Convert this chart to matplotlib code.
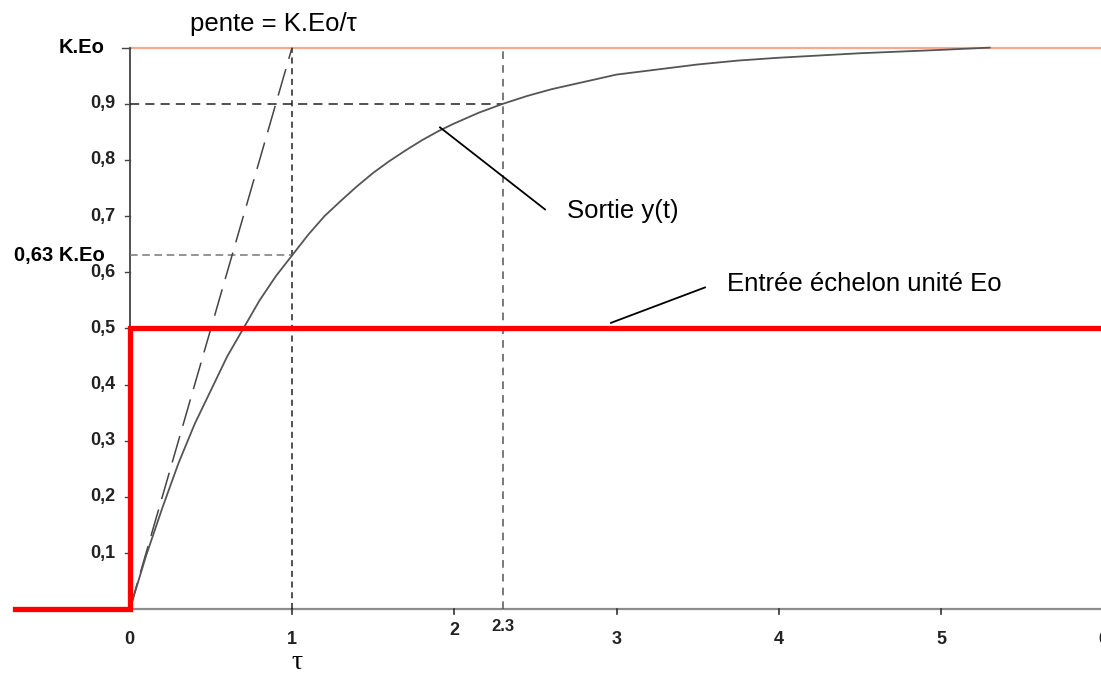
import matplotlib
matplotlib.use("Agg")
import matplotlib.pyplot as plt

plt.rcParams['font.family'] = ['Liberation Sans', 'DejaVu Sans']

# ---- data ----
t_out = [0, 0.1, 0.2, 0.3, 0.4, 0.5, 0.6, 0.7, 0.8, 0.9, 1.0, 1.1, 1.2, 1.3, 1.4, 1.5, 1.6, 1.7, 1.8, 1.9,
         2.0, 2.15, 2.3, 2.45, 2.6, 2.8, 3.0, 3.25, 3.5, 3.75, 4.0, 4.5, 5.0, 5.3]
y_out = [0, 0.095, 0.18, 0.26, 0.33, 0.39, 0.45, 0.50, 0.55, 0.593, 0.63, 0.667, 0.70, 0.727, 0.753, 0.777,
         0.798, 0.817, 0.835, 0.851, 0.865, 0.884, 0.90, 0.914, 0.926, 0.939, 0.952, 0.961, 0.970, 0.977,
         0.982, 0.990, 0.996, 1.0]
t_step = [-0.707, 0, 0, 6.2]
y_step = [0, 0, 0.5, 0.5]
tangent_t = [0, 1]
tangent_y = [0, 1]
y_ticks = [0.1, 0.2, 0.3, 0.4, 0.5, 0.6, 0.7, 0.8, 0.9]
y_tick_labels = ['0,1', '0,2', '0,3', '0,4', '0,5', '0,6', '0,7', '0,8', '0,9']
x_ticks = [0, 1, 2, 3, 4, 5, 6]
x_tick_labels = ['0', '1', '2', '3', '4', '5', '6']
tau = 1.0
t90 = 2.3
y63 = 0.63
y90 = 0.9
KEo = 1.0

fig = plt.figure(figsize=(11.01, 6.77), dpi=100)
ax = fig.add_axes([0, 0, 1, 1])
ax.set_xlim(-0.80, 5.986)
ax.set_ylim(-0.1206, 1.0848)
ax.axis('off')

# x axis (grey)
ax.plot([-0.707, 6.2], [0, 0], color='#8c8c8c', lw=1.6, zorder=2)
for xt in x_ticks[1:6]:
    ax.plot([xt, xt], [0, -0.008], color='#333333', lw=1.2, zorder=2)

# y axis
ax.plot([0, 0], [0, KEo], color='#222222', lw=1.1, zorder=3)
for yt in y_ticks:
    ax.plot([-0.03, 0], [yt, yt], color='#444444', lw=1.0, zorder=3)
ax.plot([-0.05, 0], [KEo, KEo], color='#444444', lw=1.0, zorder=3)

# K.Eo level line
ax.plot([0, 6.2], [KEo, KEo], color='#f9a98c', lw=1.6, zorder=2)

# reference dashed lines
ax.plot([tau, tau], [0, KEo], color='#222222', lw=1.1, dashes=(4, 3), zorder=3)
ax.plot([0, t90], [y90, y90], color='#222222', lw=1.1, dashes=(6, 4), zorder=3)
ax.plot([t90, t90], [0, KEo], color='#555555', lw=1.1, dashes=(5, 4), zorder=3)
ax.plot([0, tau], [y63, y63], color='#777777', lw=1.1, dashes=(5, 3), zorder=3)

# tangent at origin
ax.plot(tangent_t, tangent_y, color='#444444', lw=1.1, dashes=(18, 7), zorder=4)

# output curve
ax.plot(t_out, y_out, color='#555555', lw=1.3, zorder=4)

# step input
ax.plot(t_step, y_step, color='#ff0000', lw=3.8, zorder=5, solid_joinstyle='miter')

# tick labels
for yt, lab in zip(y_ticks, y_tick_labels):
    ax.text(-0.091, yt, lab, ha='right', va='center', fontsize=13, fontweight='bold', color='#222222')
ax.text(-0.153, KEo, 'K.Eo', ha='right', va='center', fontsize=14.5, fontweight='bold')
ax.text(-0.153, y63, '0,63 K.Eo', ha='right', va='center', fontsize=14.5, fontweight='bold')

x_label_y = {0: -0.053, 1: -0.053, 2: -0.037, 3: -0.053, 4: -0.053, 5: -0.053, 6: -0.053}
for xt, lab in zip(x_ticks, x_tick_labels):
    ax.text(xt, x_label_y[xt], lab, ha='center', va='center', fontsize=13, fontweight='bold', color='#222222')
ax.text(t90, -0.031, '2.3', ha='center', va='center', fontsize=12, fontweight='bold', color='#222222')

ax.text(1.03, -0.094, 'τ', ha='center', va='center', fontsize=20, family=['Liberation Serif', 'DejaVu Serif'])

# annotations
ax.text(0.883, 1.042, 'pente = K.Eo/τ', ha='center', va='center', fontsize=18.5)
ax.plot([1.912, 2.559], [0.858, 0.712], color='black', lw=1.3, zorder=6)
ax.text(2.695, 0.71, 'Sortie y(t)', ha='left', va='center', fontsize=18.5)
ax.plot([2.966, 3.545], [0.51, 0.573], color='black', lw=1.3, zorder=6)
ax.text(3.68, 0.58, 'Entrée échelon unité Eo', ha='left', va='center', fontsize=18.5)

fig.savefig('out.png', dpi=100)
